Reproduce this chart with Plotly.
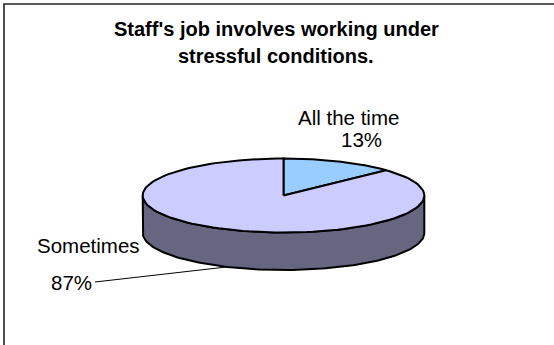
import numpy as np
import plotly.graph_objects as go

# Survey responses
categories = ["All the time", "Sometimes"]
shares = [13, 87]
top_colors = ["#99CCFF", "#CCCCFF"]
side_colors = ["#4C6680", "#666680"]

title_lines = ["Staff's job involves working under", "stressful conditions."]

W, H = 554, 345
# 3-D pie geometry (pixel space)
cx, cy = 283.5, 195.5
rx, ry = 140.8, 37.0
depth = 37.5

FONT = "Liberation Sans, Arial, sans-serif"

fig = go.Figure()


def ellipse_pts(t0, t1, dy=0.0, n=120):
    t = np.linspace(t0, t1, n)
    return cx + rx * np.cos(np.radians(t)), cy - ry * np.sin(np.radians(t)) + dy


# slice angle ranges: start at 12 o'clock, run clockwise (math angles decreasing)
total = sum(shares)
bounds = []
start = 90.0
for v in shares:
    end = start - 360.0 * v / total
    bounds.append((start, end))
    start = end

# visible front wall (math angles between 180 and 360, i.e. -180..0)
for (a0, a1), col in zip(bounds, side_colors):
    hi, lo = a0, a1  # hi > lo
    segs = []
    for shift in (0, -360, 360):
        s_hi = min(hi + shift, 0.0)
        s_lo = max(lo + shift, -180.0)
        if s_hi > s_lo:
            segs.append((s_hi, s_lo))
    for s_hi, s_lo in segs:
        tx, ty = ellipse_pts(s_hi, s_lo)
        bx, by = ellipse_pts(s_lo, s_hi, dy=depth)
        xs = np.concatenate([tx, bx, tx[:1]])
        ys = np.concatenate([ty, by, ty[:1]])
        fig.add_trace(go.Scatter(x=xs, y=ys, mode="lines", fill="toself",
                                 fillcolor=col, line=dict(color="black", width=2),
                                 hoverinfo="skip", showlegend=False))

# top faces
for (a0, a1), col in zip(bounds, top_colors):
    ax, ay = ellipse_pts(a0, a1)
    xs = np.concatenate([[cx], ax, [cx]])
    ys = np.concatenate([[cy], ay, [cy]])
    fig.add_trace(go.Scatter(x=xs, y=ys, mode="lines", fill="toself",
                             fillcolor=col, line=dict(color="black", width=2),
                             hoverinfo="skip", showlegend=False))

# leader line for the large slice label
lead_t = 246.4
lx, ly = ellipse_pts(lead_t, lead_t, dy=depth, n=1)
fig.add_trace(go.Scatter(x=[95, lx[0]], y=[282, ly[0]], mode="lines",
                         line=dict(color="black", width=1),
                         hoverinfo="skip", showlegend=False))

annotations = []
for txt, y in zip(title_lines, [28.5, 55.5]):
    annotations.append(dict(x=276, y=y, text=f"<b>{txt}</b>", showarrow=False,
                            xanchor="center", yanchor="middle",
                            font=dict(family=FONT, size=20, color="black")))

label_pos = {
    "All the time": [(348, 117), (361, 139)],
    "Sometimes": [(88, 245.5), (71, 282.5)],
}
for cat, v in zip(categories, shares):
    (x1, y1), (x2, y2) = label_pos[cat]
    annotations.append(dict(x=x1, y=y1, text=cat, showarrow=False,
                            xanchor="center", yanchor="middle",
                            font=dict(family=FONT, size=20.5, color="black")))
    annotations.append(dict(x=x2, y=y2, text=f"{v}%", showarrow=False,
                            xanchor="center", yanchor="middle",
                            font=dict(family=FONT, size=20.5, color="black")))

fig.update_layout(
    width=W, height=H,
    margin=dict(l=0, r=0, t=0, b=0),
    paper_bgcolor="white", plot_bgcolor="white",
    xaxis=dict(range=[0, W], visible=False, fixedrange=True),
    yaxis=dict(range=[H, 0], visible=False, fixedrange=True),
    annotations=annotations,
    shapes=[dict(type="rect", xref="x", yref="y", x0=4, y0=4, x1=W + 10, y1=H + 10,
                 line=dict(color="#222222", width=1.6), layer="below")],
    hovermode=False,
)

fig.write_html("out.html", config={"displayModeBar": False})
